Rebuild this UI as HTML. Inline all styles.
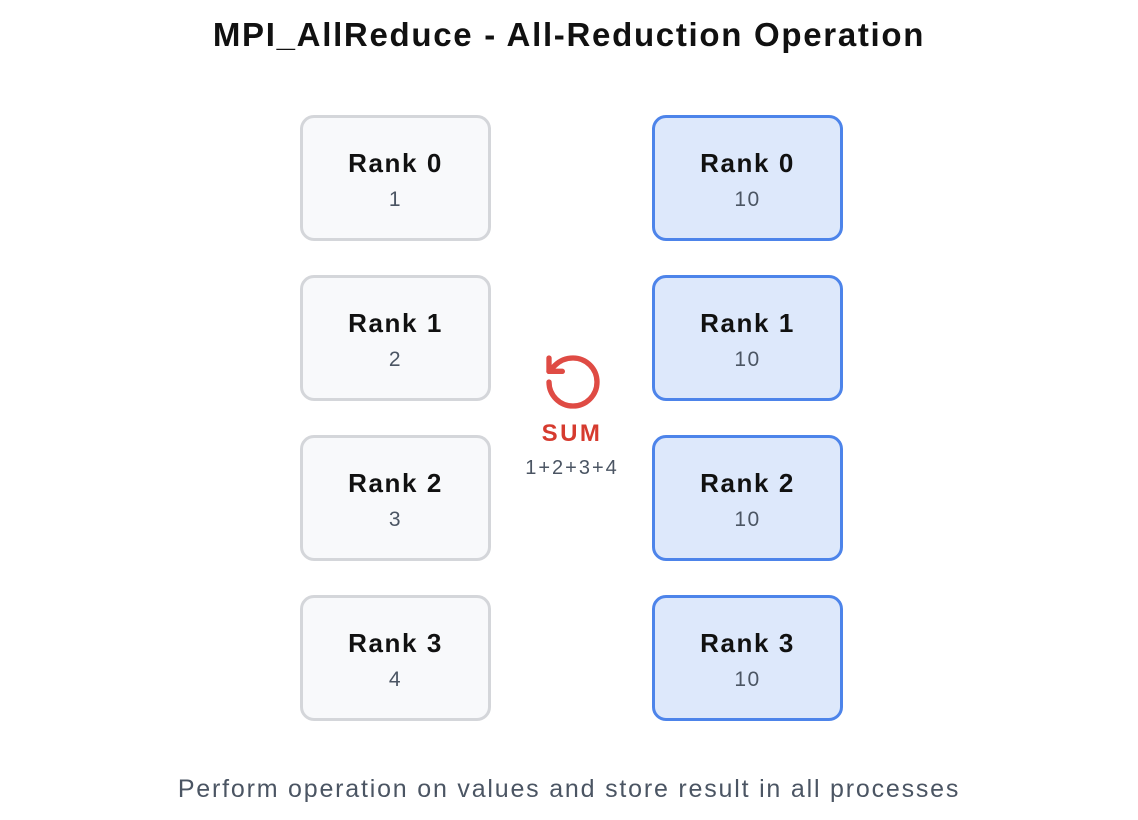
<!DOCTYPE html>
<html><head><style>
body{margin:0;width:1138px;height:820px;background:#fff;font-family:"Liberation Sans",sans-serif;position:relative;overflow:hidden}
.t{position:absolute;left:0;width:1138px;text-align:center}
.b{position:absolute;width:185px;height:120px;border-radius:14px;box-sizing:content-box;text-align:center}
.l{left:300px;background:#f8f9fb;border:3px solid #d4d6da}
.r{left:652px;background:#dde8fb;border:3px solid #4d84ea}
.b .n{position:absolute;top:30px;width:100%;font-size:26px;font-weight:bold;color:#111;letter-spacing:1.6px}
.b .v{position:absolute;top:70px;width:100%;font-size:21px;color:#4b5563;letter-spacing:1.5px}
</style></head><body>
<div class="t" style="top:16px;font-size:33px;font-weight:bold;color:#111;letter-spacing:1.7px">MPI_AllReduce - All-Reduction Operation</div>
<div class="b l" style="top:115px"><div class="n">Rank 0</div><div class="v">1</div></div>
<div class="b l" style="top:275px"><div class="n">Rank 1</div><div class="v">2</div></div>
<div class="b l" style="top:435px"><div class="n">Rank 2</div><div class="v">3</div></div>
<div class="b l" style="top:595px"><div class="n">Rank 3</div><div class="v">4</div></div>
<div class="b r" style="top:115px"><div class="n">Rank 0</div><div class="v">10</div></div>
<div class="b r" style="top:275px"><div class="n">Rank 1</div><div class="v">10</div></div>
<div class="b r" style="top:435px"><div class="n">Rank 2</div><div class="v">10</div></div>
<div class="b r" style="top:595px"><div class="n">Rank 3</div><div class="v">10</div></div>
<svg style="position:absolute;left:541px;top:350px" width="64" height="64" viewBox="0 0 24 24" fill="none" stroke="#df4b44" stroke-width="2" stroke-linecap="round" stroke-linejoin="round"><path d="M3 12a9 9 0 1 0 9-9 9.75 9.75 0 0 0-6.74 2.74L3 8"/><path d="M3 3v5h5"/></svg>
<div style="position:absolute;left:472px;width:200px;top:420px;text-align:center;font-size:24px;font-weight:bold;color:#d63b2f;letter-spacing:2.5px">SUM</div>
<div style="position:absolute;left:472px;width:200px;top:457px;text-align:center;font-size:20px;color:#4b5563;letter-spacing:2px">1+2+3+4</div>
<div class="t" style="top:775px;font-size:25px;color:#4b5563;letter-spacing:1.8px">Perform operation on values and store result in all processes</div>
</body></html>
